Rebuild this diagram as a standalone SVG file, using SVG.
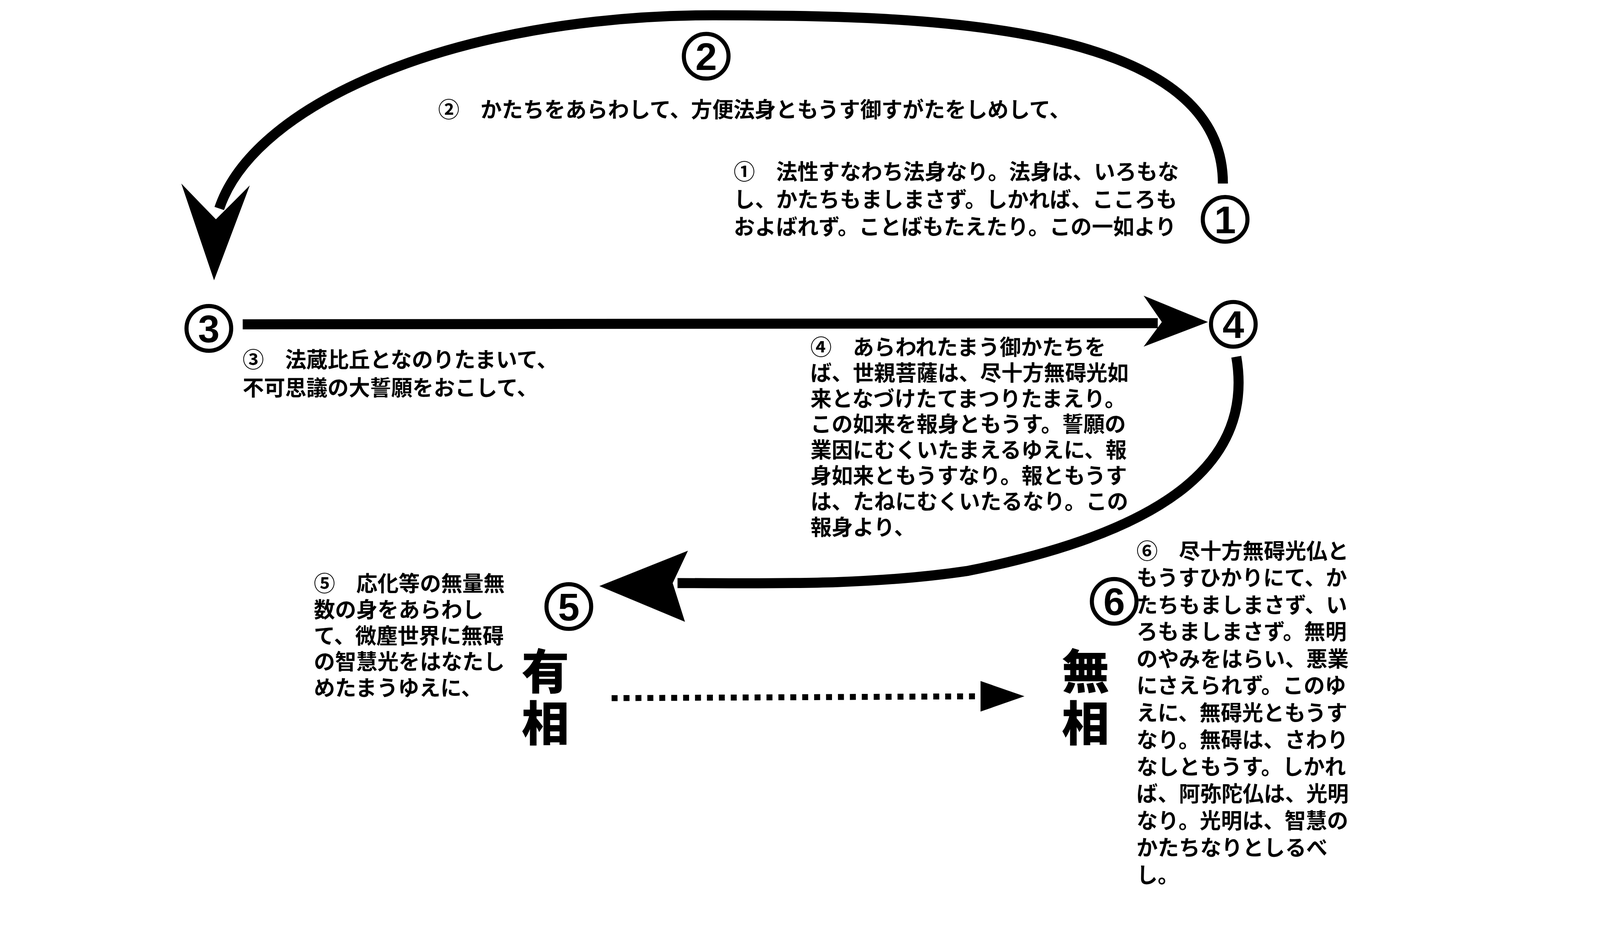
<svg xmlns="http://www.w3.org/2000/svg" width="4249" height="2411" viewBox="0 0 4249 2411">
<style>
.t{font-family:"Noto Sans CJK JP","Noto Sans CJK SC",sans-serif;font-size:57px;font-weight:bold;fill:#000}
.n{font-family:"Liberation Sans",sans-serif;font-size:104px;font-weight:bold;fill:#000;text-anchor:middle}
.big{font-family:"Noto Sans CJK JP",sans-serif;font-size:128px;font-weight:900;fill:#000;text-anchor:middle}
.c{fill:none;stroke:#000;stroke-width:11}
.l{fill:none;stroke:#000;stroke-width:27}
</style>
<rect width="4249" height="2411" fill="#fff"/>
<g transform="scale(0.953)">
<g id="connectors">
<path class="l" d="M3285,493 C3285,55 2464,41 1917,41 C1232,41 684,274 589,560"/>
<polygon points="487,493 580,589 671,498 575,753"/>
<path class="l" d="M652,871 L3110,868"/>
<polygon points="3072,794 3121,865 3072,931 3245,865"/>
<path class="l" d="M3321,958 C3368,1232 3149,1424 2601,1533 C2327,1574 2054,1566 1820,1566"/>
<polygon points="1848,1479 1807,1566 1840,1670 1610,1574"/>
<path d="M1643,1875 L2640,1870" stroke="#000" stroke-width="16" stroke-dasharray="16,16" fill="none"/>
<polygon points="2634,1829 2752,1870 2634,1911"/>
</g>
<g id="n2"><circle class="c" cx="1897" cy="151" r="60"/><text class="n" x="1897" y="188">2</text>
<text class="t" x="1177" y="315">②　かたちをあらわして、方便法身ともうす御すがたをしめして、</text></g>
<g id="n1"><circle class="c" cx="3291" cy="589" r="60"/><text class="n" x="3291" y="626">1</text>
<text class="t" x="1971" y="482">①　法性すなわち法身なり。法身は、いろもな</text>
<text class="t" x="1971" y="556">し、かたちもましまさず。しかれば、こころも</text>
<text class="t" x="1971" y="630">およばれず。ことばもたえたり。この一如より</text></g>
<g id="n3"><circle class="c" cx="561" cy="882" r="60"/><text class="n" x="561" y="919">3</text>
<text class="t" x="652" y="986">③　法蔵比丘となのりたまいて、</text>
<text class="t" x="652" y="1062">不可思議の大誓願をおこして、</text></g>
<g id="n4"><circle class="c" cx="3313" cy="871" r="60"/><text class="n" x="3313" y="908">4</text>
<text class="t" x="2177" y="953">④　あらわれたまう御かたちを</text>
<text class="t" x="2177" y="1022">ば、世親菩薩は、尽十方無碍光如</text>
<text class="t" x="2177" y="1091">来となづけたてまつりたまえり。</text>
<text class="t" x="2177" y="1160">この如来を報身ともうす。誓願の</text>
<text class="t" x="2177" y="1229">業因にむくいたまえるゆえに、報</text>
<text class="t" x="2177" y="1298">身如来ともうすなり。報ともうす</text>
<text class="t" x="2177" y="1367">は、たねにむくいたるなり。この</text>
<text class="t" x="2177" y="1436">報身より、</text></g>
<g id="n5"><circle class="c" cx="1528" cy="1629" r="60"/><text class="n" x="1528" y="1666">5</text>
<text class="t" x="843" y="1588">⑤　応化等の無量無</text>
<text class="t" x="843" y="1658">数の身をあらわし</text>
<text class="t" x="843" y="1728">て、微塵世界に無碍</text>
<text class="t" x="843" y="1798">の智慧光をはなたし</text>
<text class="t" x="843" y="1868">めたまうゆえに、</text>
<text class="big" x="1465" y="1850">有</text><text class="big" x="1465" y="1990">相</text></g>
<g id="n6"><circle class="c" cx="2993" cy="1615" r="60"/><text class="n" x="2993" y="1652">6</text>
<text class="t" x="3053" y="1500">⑥　尽十方無碍光仏と</text>
<text class="t" x="3053" y="1572">もうすひかりにて、か</text>
<text class="t" x="3053" y="1645">たちもましまさず、い</text>
<text class="t" x="3053" y="1717">ろもましまさず。無明</text>
<text class="t" x="3053" y="1790">のやみをはらい、悪業</text>
<text class="t" x="3053" y="1862">にさえられず。このゆ</text>
<text class="t" x="3053" y="1935">えに、無碍光ともうす</text>
<text class="t" x="3053" y="2007">なり。無碍は、さわり</text>
<text class="t" x="3053" y="2080">なしともうす。しかれ</text>
<text class="t" x="3053" y="2152">ば、阿弥陀仏は、光明</text>
<text class="t" x="3053" y="2225">なり。光明は、智慧の</text>
<text class="t" x="3053" y="2297">かたちなりとしるべ</text>
<text class="t" x="3053" y="2370">し。</text>
<text class="big" x="2916" y="1850">無</text><text class="big" x="2916" y="1990">相</text></g>
</g>
</svg>
